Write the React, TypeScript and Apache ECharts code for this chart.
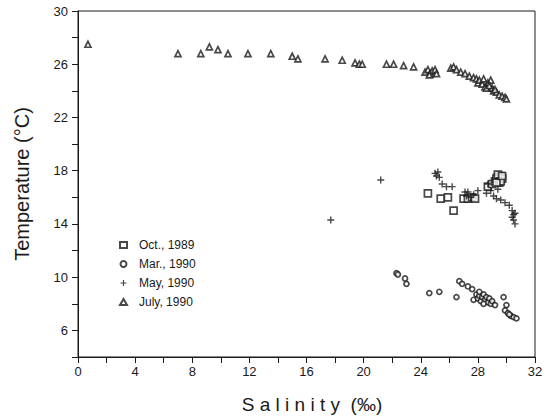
import React, { useEffect, useRef } from "react";
import * as echarts from "echarts";

const xTicks = [0, 4, 8, 12, 16, 20, 24, 28, 32];
const yTicks = [6, 10, 14, 18, 22, 26, 30];

const oct1989: number[][] = [
  [24.5, 16.3], [25.4, 15.9], [25.9, 16.0], [26.3, 15.0], [27.0, 15.9], [27.3, 15.9],
  [27.6, 16.0], [27.8, 15.9], [28.7, 16.8], [29.0, 17.0], [29.2, 17.2], [29.4, 17.5],
  [29.5, 17.3], [29.6, 17.6], [29.3, 17.4], [29.5, 17.1], [29.7, 17.4], [29.4, 17.7],
  [29.6, 17.2], [29.3, 17.1], [29.7, 17.6],
];

const mar1990: number[][] = [
  [22.3, 10.3], [22.4, 10.2], [22.9, 9.9], [23.0, 9.5], [24.6, 8.8], [25.3, 8.9],
  [26.5, 8.5], [26.7, 9.7], [26.9, 9.5], [27.3, 9.3], [27.6, 9.1], [27.7, 8.3],
  [27.9, 8.7], [28.0, 8.4], [28.1, 8.6], [28.2, 8.2], [28.3, 8.5], [28.4, 8.7],
  [28.5, 8.3], [28.6, 8.5], [28.7, 8.1], [28.8, 8.4], [28.9, 8.0], [29.0, 8.2],
  [29.2, 7.9], [28.1, 8.9], [28.4, 8.0], [29.8, 8.5], [30.0, 7.9], [29.9, 7.5],
  [30.1, 7.3], [30.3, 7.1], [30.5, 7.0], [30.7, 6.9], [30.2, 7.2],
];

const may1990: number[][] = [
  [17.7, 14.3], [21.2, 17.3], [25.0, 17.8], [25.1, 17.6], [25.2, 17.9], [25.3, 17.5],
  [25.5, 17.0], [25.8, 16.8], [26.2, 16.8], [27.1, 16.4], [27.3, 16.4], [28.0, 16.5],
  [27.2, 16.1], [27.5, 16.0], [27.7, 16.2], [28.6, 16.3], [28.9, 16.5], [29.1, 16.1],
  [29.3, 15.9], [29.6, 15.8], [29.9, 15.6], [30.2, 15.4], [30.4, 15.0], [30.5, 14.7],
  [30.5, 14.3], [30.6, 14.0], [30.4, 14.5], [30.6, 14.8], [29.4, 16.6], [28.7, 17.0],
];

const jul1990: number[][] = [
  [0.7, 27.5], [7.0, 26.8], [8.6, 26.8], [9.2, 27.3], [9.8, 27.1], [10.5, 26.8],
  [11.9, 26.8], [13.5, 26.8], [15.0, 26.6], [15.4, 26.4], [17.3, 26.4], [18.5, 26.3],
  [19.4, 26.1], [19.7, 26.0], [19.9, 26.0], [21.6, 26.0], [22.1, 26.0], [22.8, 25.9],
  [23.5, 25.8], [24.3, 25.4], [24.5, 25.6], [24.7, 25.3], [24.8, 25.5], [25.0, 25.6],
  [25.1, 25.3], [24.6, 25.2], [26.1, 25.7], [26.3, 25.8], [26.5, 25.6], [26.8, 25.4],
  [27.1, 25.3], [27.4, 25.1], [27.7, 25.0], [27.9, 24.9], [28.0, 24.6], [28.1, 24.8],
  [28.3, 24.5], [28.4, 24.9], [28.5, 24.3], [28.7, 24.6], [28.9, 24.8], [29.0, 24.2],
  [29.1, 24.0], [29.3, 23.9], [29.5, 23.7], [29.7, 23.6], [29.9, 23.5], [30.0, 23.4],
  [28.6, 24.2], [28.8, 24.4], [29.2, 24.1],
];

const seriesNames = ["Oct., 1989", "Mar., 1990", "May, 1990", "July, 1990"];

const PLUS = "path://M4 0L6 0L6 4L10 4L10 6L6 6L6 10L4 10L4 6L0 6L0 4L4 4Z";
const FONT = "Liberation Sans, Arial, Helvetica, sans-serif";
const INK = "#1a1a1a";

export default function App() {
  const ref = useRef<HTMLDivElement>(null);
  useEffect(() => {
    document.body.style.margin = "0";
    const chart = echarts.init(ref.current!, null, { renderer: "svg" });
    const hollow = { color: "#fff", borderColor: INK, borderWidth: 1.7 };
    chart.setOption({
      animation: false,
      backgroundColor: "#fff",
      grid: { left: 78, right: 21, top: 11, bottom: 63, show: true, borderColor: INK, borderWidth: 1 },
      xAxis: {
        type: "value", min: 0, max: 32, interval: 2,
        axisLine: { lineStyle: { color: INK } },
        axisTick: { length: 6, lineStyle: { color: INK } },
        axisLabel: {
          color: INK, fontSize: 13, fontFamily: FONT, margin: 8,
          formatter: (v: number) => (xTicks.includes(v) ? String(v) : ""),
        },
        splitLine: { show: false },
      },
      yAxis: {
        type: "value", min: 4, max: 30, interval: 2,
        axisLine: { lineStyle: { color: INK } },
        axisTick: { length: 6, lineStyle: { color: INK } },
        axisLabel: {
          color: INK, fontSize: 13, fontFamily: FONT, margin: 10,
          formatter: (v: number) => (yTicks.includes(v) ? String(v) : ""),
        },
        splitLine: { show: false },
      },
      legend: {
        orient: "vertical", left: 114, top: 234, itemGap: 7, itemWidth: 7, itemHeight: 6,
        textStyle: { fontSize: 12, fontFamily: FONT, color: INK, padding: [0, 0, 0, 7] },
        data: seriesNames,
      },
      graphic: [
        {
          type: "text", x: 22, y: 184, rotation: Math.PI / 2,
          style: { text: "Temperature (°C)", fontSize: 20, fontFamily: FONT, fill: INK, align: "center", verticalAlign: "middle" },
        },
        {
          type: "text", x: 312, y: 404,
          style: { text: "S a l i n i t y  (‰)", fontSize: 19, fontFamily: FONT, fill: INK, align: "center", verticalAlign: "middle" },
        },
      ],
      series: [
        { name: seriesNames[0], type: "scatter", data: oct1989, symbol: "rect", symbolSize: 7, itemStyle: hollow },
        { name: seriesNames[1], type: "scatter", data: mar1990, symbol: "circle", symbolSize: 5, itemStyle: hollow },
        { name: seriesNames[2], type: "scatter", data: may1990, symbol: PLUS, symbolSize: 7, itemStyle: { color: INK } },
        { name: seriesNames[3], type: "scatter", data: jul1990, symbol: "triangle", symbolSize: 6, itemStyle: hollow },
      ],
    });
    return () => chart.dispose();
  }, []);
  return <div ref={ref} style={{ width: 556, height: 420 }} />;
}
